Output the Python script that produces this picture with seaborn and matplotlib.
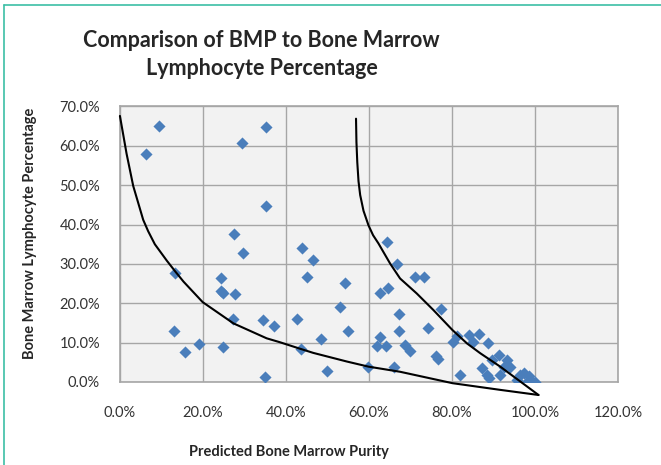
import matplotlib
matplotlib.use("Agg")
import matplotlib.pyplot as plt
import seaborn as sns
import pandas as pd
from matplotlib.ticker import PercentFormatter, MultipleLocator
from matplotlib.lines import Line2D

# predicted purity (%) vs lymphocyte percentage (%)
purity = [9.6, 6.3, 29.4, 35.2, 35.3, 27.6, 29.6, 13.4, 24.3, 24.5, 24.9, 27.9,
          27.2, 34.5, 37.1, 42.6, 13.0, 15.8, 19.1, 24.9, 34.9, 44.0, 46.5, 45.2,
          54.2, 53.1, 54.9, 48.4, 43.7, 49.9, 59.9, 64.3, 66.7, 71.1, 73.3, 64.7,
          62.7, 77.3, 67.3, 67.3, 74.3, 62.7, 62.0, 64.1, 68.7, 69.9, 76.2, 76.7,
          66.1, 82.0, 80.3, 81.3, 84.2, 86.4, 85.0, 88.6, 87.2, 88.5, 89.6, 91.4,
          93.2, 91.6, 94.0, 92.4, 95.6, 97.2, 98.4, 99.2, 100.0, 98.0, 96.4, 88.8]
lympho = [65.0, 57.9, 60.6, 64.7, 44.6, 37.6, 32.9, 27.7, 26.5, 23.2, 22.6, 22.3,
          16.0, 15.7, 14.3, 15.9, 13.0, 7.5, 9.6, 9.0, 1.3, 34.1, 31.0, 26.7,
          25.2, 19.1, 13.0, 10.8, 8.4, 2.9, 3.9, 35.5, 29.9, 26.6, 26.7, 24.0,
          22.5, 18.5, 17.3, 13.0, 13.8, 11.5, 9.1, 9.2, 9.4, 7.9, 6.6, 5.8,
          3.9, 1.8, 10.2, 11.7, 11.9, 12.2, 10.2, 9.8, 3.5, 1.8, 5.6, 6.9,
          5.6, 1.8, 3.9, 3.9, 0.5, 2.2, 1.4, 0.1, 0.0, 0.1, 1.8, 0.9]

# the two black reference curves
lower_x = [0.1, 1.7, 3.3, 5.7, 6.9, 8.5, 11.4, 13.4, 15.4, 20.0, 27.4, 35.4,
           38.6, 43.3, 46.6, 54.7, 59.9, 67.5, 80.1, 91.6, 100.8]
lower_y = [67.6, 58.0, 49.8, 41.2, 38.3, 35.0, 30.8, 28.1, 25.5, 20.3, 14.9, 11.1,
           10.1, 8.5, 7.4, 5.2, 3.9, 2.6, -0.3, -2.0, -3.3]
upper_x = [56.9, 57.0, 57.2, 57.5, 57.9, 58.7, 59.9, 61.0, 62.3, 65.1, 67.5,
           71.5, 75.5, 80.1, 83.6, 86.8, 91.6, 100.8]
upper_y = [66.9, 61.0, 55.9, 51.0, 47.5, 43.5, 39.8, 37.3, 35.2, 30.1, 26.3,
           22.5, 18.3, 13.2, 9.8, 7.3, 3.9, -3.3]

sns.set_style("whitegrid", {"axes.facecolor": "#F2F2F2", "grid.color": "#A6A6A6",
                            "axes.edgecolor": "#A6A6A6"})
plt.rcParams["font.family"] = ["Lato", "DejaVu Sans"]

fig = plt.figure(figsize=(6.61, 4.65), dpi=100)
ax = fig.add_axes([0.1808, 0.1785, 0.7546, 0.5925])

df = pd.DataFrame({"purity": purity, "lympho": lympho})
sns.scatterplot(data=df, x="purity", y="lympho", marker="D", s=38,
                color="#4A7EBB", edgecolor="#4A7EBB", linewidth=0, ax=ax, zorder=3)
sns.lineplot(x=lower_x, y=lower_y, sort=False, estimator=None, color="black",
             lw=1.5, ax=ax, clip_on=False, zorder=4)
sns.lineplot(x=upper_x, y=upper_y, sort=False, estimator=None, color="black",
             lw=1.5, ax=ax, clip_on=False, zorder=4)

ax.set_xlim(0, 120)
ax.set_ylim(0, 70)
ax.xaxis.set_major_locator(MultipleLocator(20))
ax.yaxis.set_major_locator(MultipleLocator(10))
ax.xaxis.set_major_formatter(PercentFormatter(100, decimals=1))
ax.yaxis.set_major_formatter(PercentFormatter(100, decimals=1))
ax.tick_params(length=0, labelsize=10.5, labelcolor="#333333")
ax.tick_params(axis="x", pad=17)
ax.tick_params(axis="y", pad=14)
ax.grid(True, lw=1)
ax.set_xlabel("")
ax.set_ylabel("")
for sp in ax.spines.values():
    sp.set_color("#A6A6A6")
    sp.set_linewidth(1.2)

fig.text(0.396, 0.883, "Comparison of BMP to Bone Marrow\nLymphocyte Percentage",
         ha="center", va="center", fontsize=15.5, fontweight="bold",
         linespacing=1.4)
fig.text(0.437, 0.028, "Predicted Bone Marrow Purity", ha="center", va="center",
         fontsize=10.5, fontweight="bold")
fig.text(0.045, 0.499, "Bone Marrow Lymphocyte Percentage", ha="center",
         va="center", rotation=90, fontsize=10.5, fontweight="bold")

# teal chart-area frame (top and left edges visible)
fig.add_artist(Line2D([0.006, 1.0], [0.989, 0.989], color="#3CBFA5", lw=1.2))
fig.add_artist(Line2D([0.006, 0.006], [0.0, 0.989], color="#3CBFA5", lw=1.2))

fig.savefig("out.png", dpi=100)
